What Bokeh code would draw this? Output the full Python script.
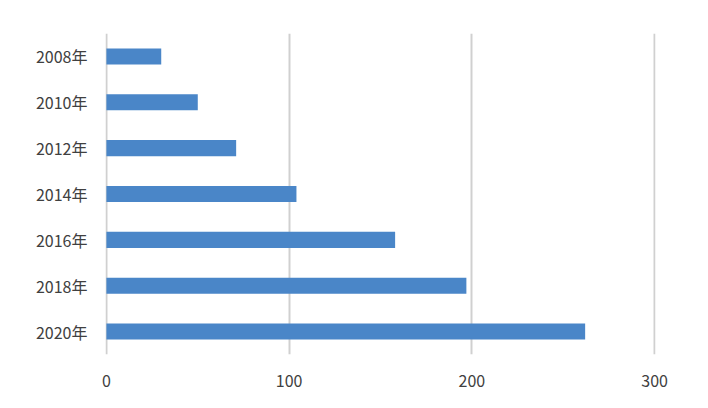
from bokeh.plotting import figure
from bokeh.models import Range1d, FactorRange, FixedTicker, ColumnDataSource
from bokeh.embed import file_html
from bokeh.resources import INLINE

years = ["2008年", "2010年", "2012年", "2014年", "2016年", "2018年", "2020年"]
values = [30, 50, 71, 104, 158, 197, 262]
x_ticks = [0, 100, 200, 300]

FONT = "Noto Sans CJK SC"
TEXT = "#404040"

src = ColumnDataSource(dict(y=years, v=values))

p = figure(width=700, height=400, output_backend="svg", toolbar_location=None,
           y_range=FactorRange(*reversed(years), range_padding=0),
           x_range=Range1d(-0.5, 300.5),
           min_border_left=105, min_border_right=45, min_border_top=33, min_border_bottom=46)
p.hbar(y="y", right="v", left=0, height=0.35, source=src, color="#4a86c8", line_color=None)

p.outline_line_color = None
p.ygrid.grid_line_color = None
p.xgrid.ticker = FixedTicker(ticks=x_ticks)
p.xgrid.grid_line_color = "#d0d0d0"
p.xgrid.grid_line_width = 2

p.xaxis.ticker = FixedTicker(ticks=x_ticks)
for ax in (p.xaxis[0], p.yaxis[0]):
    ax.axis_line_color = None
    ax.major_tick_line_color = None
    ax.minor_tick_line_color = None
    ax.major_label_text_font = FONT
    ax.major_label_text_font_size = "16px"
    ax.major_label_text_color = TEXT
p.xaxis.major_label_standoff = 14
p.yaxis.major_label_standoff = 12

open("out.html", "w").write(file_html(p, INLINE))
